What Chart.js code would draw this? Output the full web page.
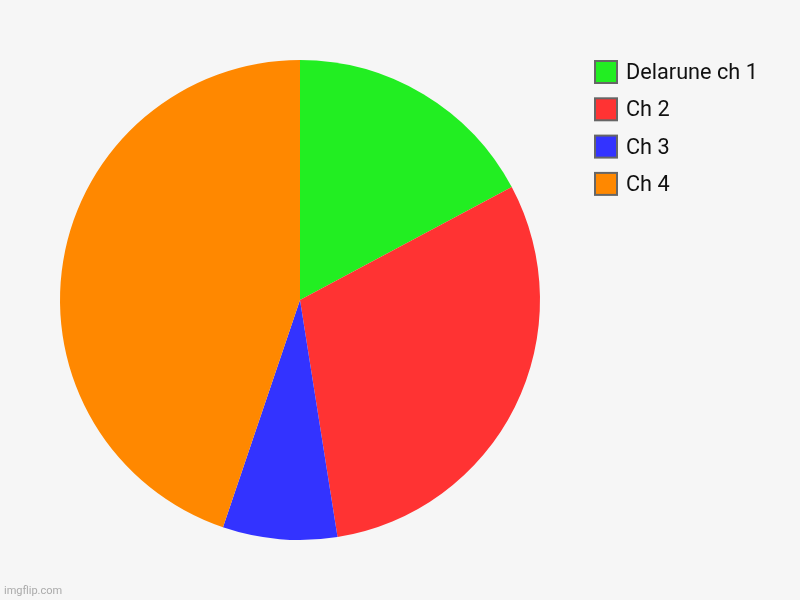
<!DOCTYPE html>
<html>
<head>
<meta charset="utf-8">
<script src="https://cdn.jsdelivr.net/npm/chart.js@4"></script>
<style>
html,body{margin:0;padding:0;background:#f6f6f6;}
#wrap{width:800px;height:600px;position:relative;}
</style>
</head>
<body>
<div id="wrap"><canvas id="c" width="800" height="600"></canvas></div>
<script>
const labels = ["Delarune ch 1", "Ch 2", "Ch 3", "Ch 4"];
const values = [17.2, 30.3, 7.7, 44.8];
const colors = ["#22ee22", "#ff3333", "#3333ff", "#ff8800"];

const customLegend = {
  id: 'customLegend',
  afterDraw(chart) {
    const ctx = chart.ctx;
    ctx.save();
    ctx.font = '21.7px Roboto, "Noto Sans", sans-serif';
    ctx.textBaseline = 'middle';
    ctx.textAlign = 'left';
    chart.data.labels.forEach((lab, i) => {
      const y = 60 + i * 37.3;
      ctx.fillStyle = chart.data.datasets[0].backgroundColor[i];
      ctx.fillRect(595, y + 1, 22, 22);
      ctx.strokeStyle = '#666666';
      ctx.lineWidth = 2;
      ctx.strokeRect(595, y + 1, 22, 22);
      ctx.fillStyle = '#111111';
      ctx.fillText(lab, 626, y + 13.5);
    });
    ctx.font = '11px Roboto, "Noto Sans", sans-serif';
    ctx.fillStyle = '#aaaaaa';
    ctx.textBaseline = 'alphabetic';
    ctx.fillText('imgflip.com', 4, 594);
    ctx.restore();
  }
};

const bg = {
  id: 'bg',
  beforeDraw(chart) {
    const ctx = chart.ctx;
    ctx.save();
    ctx.fillStyle = '#f6f6f6';
    ctx.fillRect(0, 0, chart.width, chart.height);
    ctx.restore();
  }
};

new Chart(document.getElementById('c'), {
  type: 'pie',
  data: {
    labels: labels,
    datasets: [{
      data: values,
      backgroundColor: colors,
      borderWidth: 0
    }]
  },
  options: {
    responsive: false,
    animation: false,
    layout: { padding: { left: 60, right: 260, top: 60, bottom: 60 } },
    plugins: {
      legend: { display: false },
      tooltip: { enabled: false }
    }
  },
  plugins: [bg, customLegend]
});
</script>
</body>
</html>
